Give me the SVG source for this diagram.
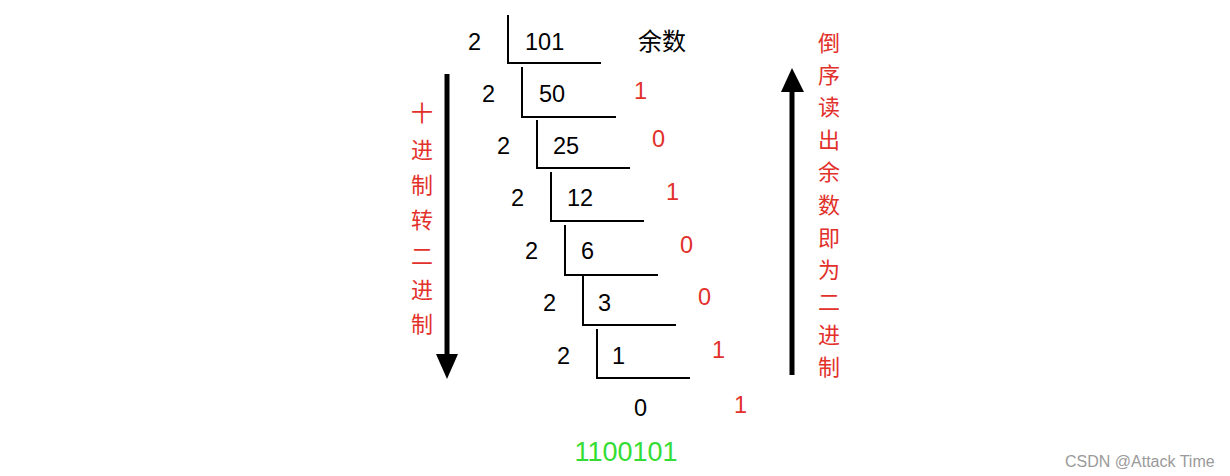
<svg xmlns="http://www.w3.org/2000/svg" width="1230" height="476" viewBox="0 0 1230 476">
<style>
text{font-family:"Liberation Sans","Noto Sans CJK SC",Arial,sans-serif;font-size:23.5px}
.k{fill:#000}
.r{fill:#e2302b}
.g{fill:#33dd33;font-size:27px}
.v{fill:#e2302b;font-size:22px;text-anchor:middle;font-family:"Noto Sans CJK SC",sans-serif}
.w{fill:#9a9a9a;font-size:16px}
.br{fill:none;stroke:#000;stroke-width:2}
.ar{stroke:#000;stroke-width:5}
</style>
<rect width="1230" height="476" fill="#fff"/>
<g id="connectors">
<line class="ar" x1="447" y1="74" x2="447" y2="356"/>
<polygon points="436,354 458,354 447,379"/>
<line class="ar" x1="792" y1="375" x2="792" y2="90"/>
<polygon points="781,92 804,92 792,68"/>
</g>
<g id="step1"><polyline class="br" points="508,15 508,63 601,63"/><text class="k" x="468" y="50">2</text><text class="k" x="525" y="50">101</text></g>
<g id="step2"><polyline class="br" points="522,67 522,117 616,117"/><text class="k" x="482" y="102">2</text><text class="k" x="539" y="102">50</text></g>
<g id="step3"><polyline class="br" points="537,120 537,168 630,168"/><text class="k" x="497" y="154">2</text><text class="k" x="553" y="154">25</text></g>
<g id="step4"><polyline class="br" points="551,172 551,221 644,221"/><text class="k" x="511" y="206">2</text><text class="k" x="567" y="206">12</text></g>
<g id="step5"><polyline class="br" points="565,225 565,275 658,275"/><text class="k" x="525" y="259">2</text><text class="k" x="581" y="259">6</text></g>
<g id="step6"><polyline class="br" points="583,276 583,325 676,325"/><text class="k" x="543" y="311">2</text><text class="k" x="598" y="311">3</text></g>
<g id="step7"><polyline class="br" points="597,329 597,378 690,378"/><text class="k" x="557" y="364">2</text><text class="k" x="612" y="364">1</text></g>
<g id="quotient"><text class="k" x="634" y="416">0</text></g>
<g id="remainder-title"><text class="k" x="638" y="50" style="font-size:24px">余数</text></g>
<g id="remainders">
<text class="r" x="634" y="99">1</text>
<text class="r" x="652" y="147">0</text>
<text class="r" x="666" y="200">1</text>
<text class="r" x="680" y="253">0</text>
<text class="r" x="698" y="305">0</text>
<text class="r" x="712" y="358">1</text>
<text class="r" x="734" y="413">1</text>
</g>
<g id="result"><text class="g" x="626" y="461" text-anchor="middle">1100101</text></g>
<g id="left-label">
<text class="v" x="422" y="121">十</text>
<text class="v" x="422" y="158">进</text>
<text class="v" x="422" y="193">制</text>
<text class="v" x="422" y="228">转</text>
<text class="v" x="422" y="264">二</text>
<text class="v" x="422" y="298">进</text>
<text class="v" x="422" y="332">制</text>
</g>
<g id="right-label">
<text class="v" x="829" y="51">倒</text>
<text class="v" x="829" y="83">序</text>
<text class="v" x="829" y="115">读</text>
<text class="v" x="829" y="148">出</text>
<text class="v" x="829" y="180">余</text>
<text class="v" x="829" y="213">数</text>
<text class="v" x="829" y="246">即</text>
<text class="v" x="829" y="278">为</text>
<text class="v" x="829" y="310">二</text>
<text class="v" x="829" y="343">进</text>
<text class="v" x="829" y="375">制</text>
</g>
<g id="watermark"><text class="w" x="1065" y="467">CSDN @Attack Time</text></g>
</svg>
